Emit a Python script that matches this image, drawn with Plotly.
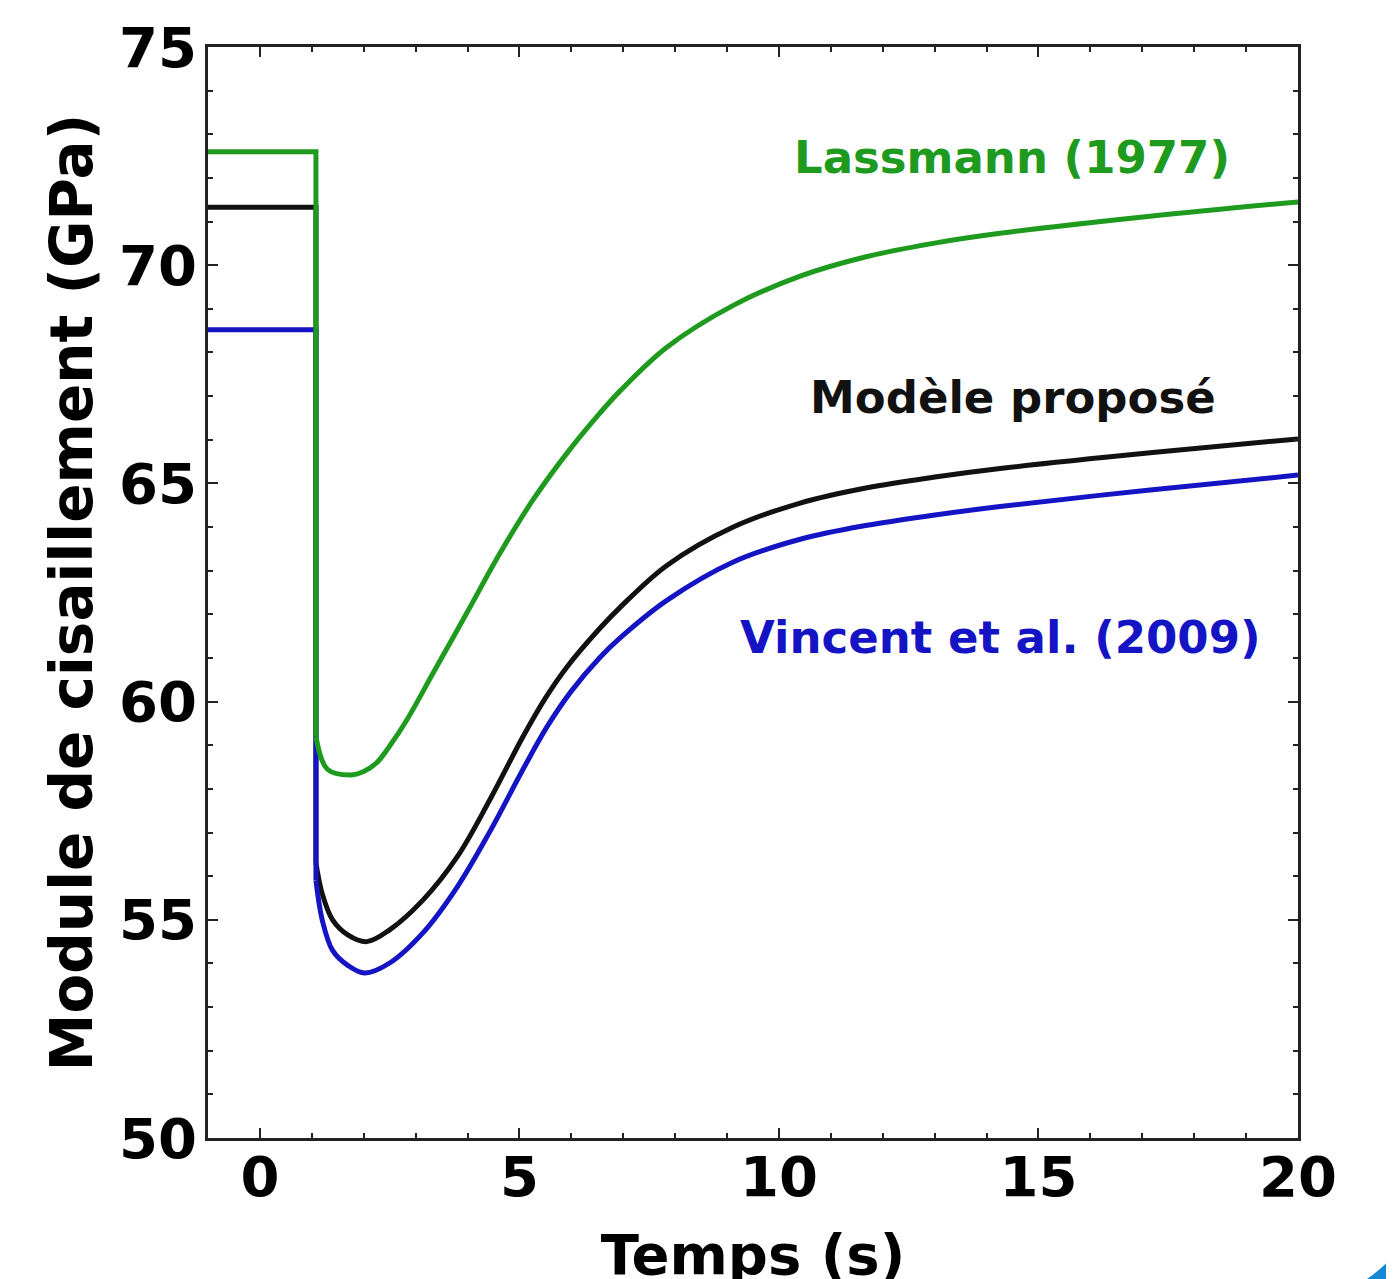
import plotly.graph_objects as go

# ---- data ----
# Time (s) and shear modulus (GPa)
t_step = [-1.0, 1.08, 1.08]

lass_step = [72.6, 72.6, 59.2]
lass_t = [1.08, 1.30, 1.74, 2.00, 2.25, 2.51, 2.83, 3.34, 3.99, 4.63, 5.26, 5.92,
          6.55, 6.94, 7.84, 9.12, 10.41, 11.70, 12.97, 14.26, 17.15, 20.0]
lass_g = [59.2, 58.45, 58.32, 58.40, 58.60, 59.0, 59.58, 60.66, 62.04, 63.41, 64.62, 65.70,
          66.61, 67.12, 68.12, 69.08, 69.75, 70.20, 70.50, 70.73, 71.12, 71.45]

model_step = [71.33, 71.33, 56.3]
model_t = [1.08, 1.20, 1.40, 1.70, 2.06, 2.50, 3.14, 3.80, 4.43, 5.07, 5.50, 5.92,
           6.55, 6.94, 7.84, 9.12, 10.41, 11.70, 12.97, 14.26, 17.15, 20.0]
model_g = [56.3, 55.6, 55.0, 54.65, 54.5, 54.77, 55.45, 56.44, 57.75, 59.20, 60.08, 60.80,
           61.68, 62.16, 63.12, 64.00, 64.55, 64.90, 65.14, 65.34, 65.70, 66.02]

vinc_step = [68.52, 68.52, 55.9]
vinc_t = [1.08, 1.20, 1.40, 1.70, 2.02, 2.50, 3.14, 3.80, 4.43, 5.07, 5.53, 6.0,
          6.55, 6.94, 7.84, 9.12, 10.41, 11.70, 12.97, 14.26, 17.15, 20.0]
vinc_g = [55.9, 55.0, 54.3, 53.95, 53.78, 54.01, 54.70, 55.75, 57.02, 58.45, 59.42, 60.24,
          61.01, 61.46, 62.32, 63.20, 63.72, 64.04, 64.27, 64.47, 64.85, 65.19]

labels = ["Lassmann (1977)", "Modèle proposé", "Vincent et al. (2009)"]
label_pos_t = [14.49, 14.51, 14.26]
label_pos_g = [72.46, 66.96, 61.46]

x_tickvals = [0, 5, 10, 15, 20]
y_tickvals = [50, 55, 60, 65, 70, 75]

GREEN = "#1e9b1e"
BLACK = "#111111"
BLUE = "#1414c4"

fig = go.Figure()

series = [
    (model_step, model_t, model_g, BLACK),
    (vinc_step, vinc_t, vinc_g, BLUE),
    (lass_step, lass_t, lass_g, GREEN),
]
for step, tt, gg, col in series:
    fig.add_trace(go.Scatter(x=t_step, y=step, mode="lines",
                             line=dict(color=col, width=5), showlegend=False,
                             hoverinfo="skip"))
    fig.add_trace(go.Scatter(x=tt, y=gg, mode="lines",
                             line=dict(color=col, width=5, shape="spline", smoothing=1.0),
                             showlegend=False))

label_colors = [GREEN, BLACK, BLUE]
for txt, xt, yg, col in zip(labels, label_pos_t, label_pos_g, label_colors):
    fig.add_annotation(x=xt, y=yg, text=txt, showarrow=False, xref="x", yref="y",
                       font=dict(family="DejaVu Sans", size=45, color=col, weight="bold"))

axis_common = dict(
    showline=True, linecolor="#222222", linewidth=2.5, mirror="allticks",
    ticks="inside", ticklen=10, tickwidth=2, tickcolor="#222222",
    showgrid=False, zeroline=False, automargin=False,
    tickfont=dict(family="DejaVu Sans", size=56, color="#000000", weight="bold"),
    minor=dict(ticks="inside", ticklen=5, tickwidth=2, tickcolor="#222222", dtick=1, showgrid=False),
)

fig.update_xaxes(range=[-1, 20], tickvals=x_tickvals, ticklabelstandoff=-12, **axis_common,
                 title=dict(text="Temps (s)", standoff=30,
                            font=dict(family="DejaVu Sans", size=56, color="#000000", weight="bold")))
fig.update_yaxes(range=[50, 75], tickvals=y_tickvals, ticklabelstandoff=-3, **axis_common,
                 title=dict(text="Module de cisaillement (GPa)", standoff=8,
                            font=dict(family="DejaVu Sans", size=58, color="#000000", weight="bold")))

# decorative corner mark of the original slide
fig.add_shape(type="path", xref="paper", yref="paper",
              path="M 1.0633 -0.1292 Q 1.078 -0.119 1.0881 -0.1072 L 1.1 -0.1072 L 1.1 -0.14 L 1.0633 -0.14 Z",
              fillcolor="#1488d0", line=dict(width=0), layer="above")

# page body has an 8 px default margin, so the figure is offset by 8 px
fig.update_layout(
    width=1394, height=1279,
    margin=dict(l=200, r=104, t=39, b=149),
    plot_bgcolor="white", paper_bgcolor="white",
    font=dict(family="DejaVu Sans"),
)

fig.write_html("out.html")
